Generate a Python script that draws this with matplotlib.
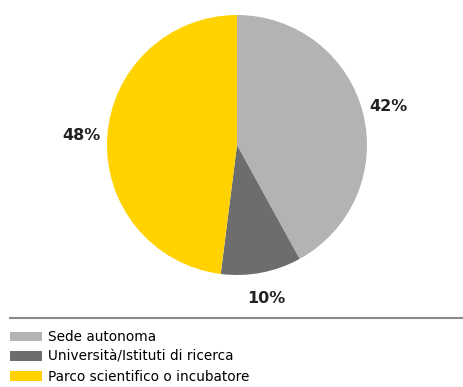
import matplotlib.pyplot as plt
from matplotlib.patches import Patch
from matplotlib.lines import Line2D

categories = ['Sede autonoma', 'Università/Istituti di ricerca', 'Parco scientifico o incubatore']
shares = [42, 10, 48]
colors = ['#b3b3b3', '#6d6d6d', '#ffd200']

W, H = 463, 387
fig = plt.figure(figsize=(W / 100, H / 100), dpi=100)

# pie axes placed in pixels: centre (237,145), radius 130
cx, cy, r = 237, 145, 130
ax = fig.add_axes([(cx - r) / W, (H - cy - r) / H, 2 * r / W, 2 * r / H])
wedges, texts, autotexts = ax.pie(
    shares, colors=colors, startangle=90, counterclock=False,
    autopct='%d%%', pctdistance=1.2, radius=1,
    textprops=dict(fontsize=11.5, fontweight='bold', color='#222222'))
ax.set_xlim(-1, 1)
ax.set_ylim(-1, 1)
ax.set_aspect('equal')

# separator line above the legend
fig.add_artist(Line2D([10 / W, 1], [1 - 318 / H, 1 - 318 / H], color='#8a8a8a', lw=1.5))

handles = [Patch(facecolor=c, edgecolor='none') for c in colors]
fig.legend(handles, categories, loc='upper left', bbox_to_anchor=(6 / W, 1 - 326 / H),
           frameon=False, fontsize=9.8, handlelength=2.35, handleheight=0.7,
           handletextpad=0.45, labelspacing=0.42, borderaxespad=0, borderpad=0.3)

fig.savefig('out.png', dpi=100)
